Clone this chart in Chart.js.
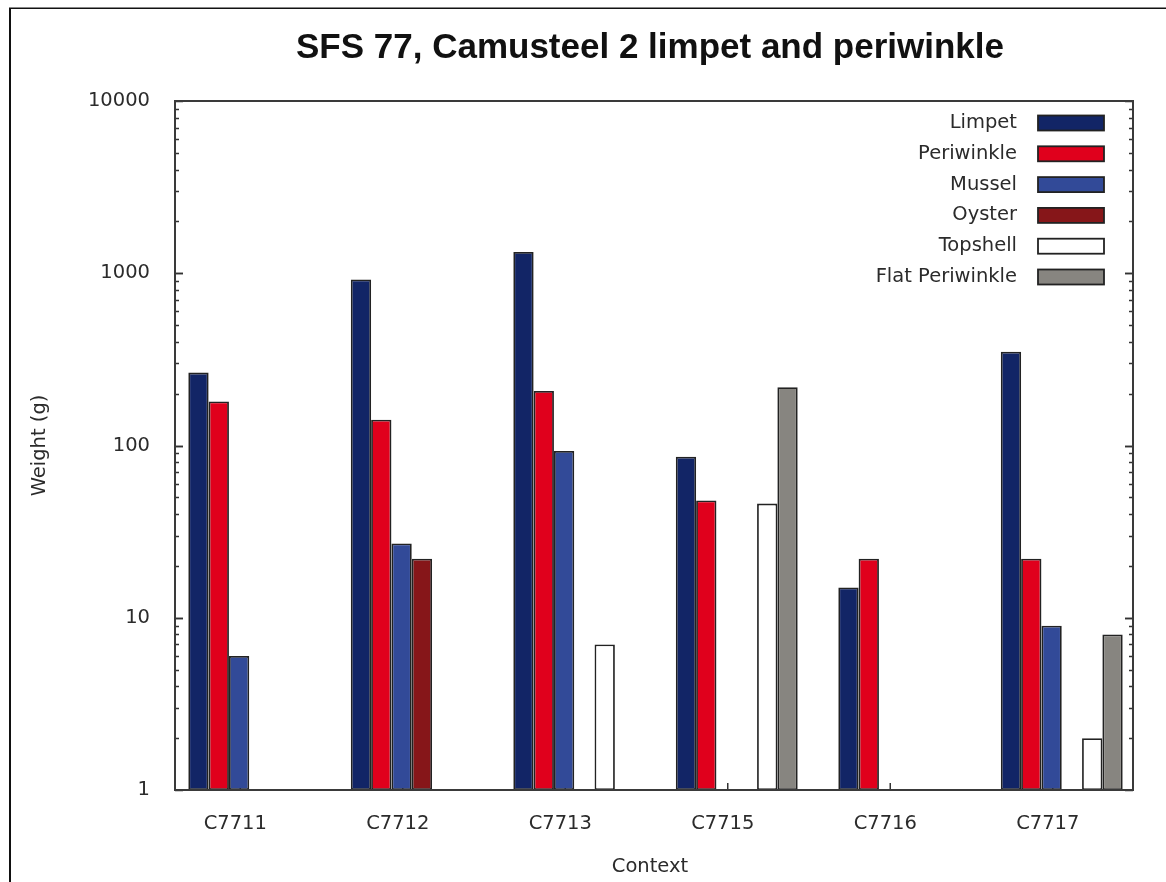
<!DOCTYPE html>
<html>
<head>
<meta charset="utf-8">
<script src="https://cdn.jsdelivr.net/npm/chart.js@4/dist/chart.umd.min.js"></script>
<style>
  body { margin: 0; background: #fff; }
  canvas { display: block; }
</style>
</head>
<body>
<canvas id="shells" width="1166" height="882"></canvas>
<script>
// categories and series
const contexts = ['C7711', 'C7712', 'C7713', 'C7715', 'C7716', 'C7717'];
const limpet = [265, 920, 1330, 86, 15, 350];
const periwinkle = [180, 141, 207, 48, 22, 22];
const mussel = [6, 27, 93, null, null, 9];
const oyster = [null, 22, null, null, null, null];
const topshell = [null, null, 7, 46, null, 2];
const flatPeriwinkle = [null, null, null, 218, null, 8];
const yTicks = [1, 10, 100, 1000, 10000];

const ink = '#2b2b2b';
const labelFont = { family: 'DejaVu Sans', size: 19.5 };

function series(label, data, color) {
  return {
    label: label,
    data: data,
    backgroundColor: color,
    borderColor: '#222',
    borderWidth: 1.8,
    borderSkipped: false,
    categoryPercentage: 0.75,
    barPercentage: 1.0
  };
}

// frame, ticks, legend and titles in gnuplot style
const gnuplotLook = {
  id: 'gnuplotLook',
  frame(chart) {
    const a = chart.chartArea;
    return { l: a.left + 7, r: a.right - 10, t: a.top, b: a.bottom };
  },
  beforeDraw(chart) {
    const ctx = chart.ctx;
    ctx.save();
    ctx.fillStyle = '#fff';
    ctx.fillRect(0, 0, chart.width, chart.height);
    ctx.fillStyle = '#111';
    ctx.fillRect(9, 8, 2, chart.height - 8);
    ctx.fillRect(9, 7.5, chart.width - 9, 1.5);
    ctx.restore();
  },
  beforeDatasetsDraw(chart) {
    const ctx = chart.ctx;
    const f = this.frame(chart);
    const x = chart.scales.x;
    ctx.save();
    ctx.strokeStyle = '#333';
    ctx.lineWidth = 1.5;
    contexts.forEach((c, i) => {
      const px = x.getPixelForValue(i) - 9;
      ctx.beginPath();
      ctx.moveTo(px, f.b);
      ctx.lineTo(px, f.b - 7);
      ctx.stroke();
    });
    ctx.restore();
  },
  afterDatasetsDraw(chart) {
    const ctx = chart.ctx;
    const f = this.frame(chart);
    const y = chart.scales.y;
    ctx.save();
    ctx.strokeStyle = '#333';
    ctx.lineWidth = 1.5;
    for (let d = 1; d < 10000; d *= 10) {
      for (let m = 1; m <= 10; m++) {
        const py = Math.round(y.getPixelForValue(d * m)) + 0.5;
        const len = (m === 1 || m === 10) ? 8 : 4;
        ctx.beginPath();
        ctx.moveTo(f.l, py); ctx.lineTo(f.l + len, py);
        ctx.moveTo(f.r, py); ctx.lineTo(f.r - len, py);
        ctx.stroke();
      }
    }
    ctx.strokeStyle = '#3a3a3a';
    ctx.lineWidth = 2;
    ctx.strokeRect(f.l, f.t, f.r - f.l, f.b - f.t);
    ctx.restore();
  },
  afterDraw(chart) {
    const ctx = chart.ctx;
    const f = this.frame(chart);
    ctx.save();
    // title
    ctx.fillStyle = '#111';
    ctx.textAlign = 'center';
    ctx.textBaseline = 'middle';
    ctx.font = 'bold 35px "Liberation Sans", sans-serif';
    ctx.fillText('SFS 77, Camusteel 2 limpet and periwinkle', (f.l + f.r) / 2 - 4, 48);
    // axis titles
    ctx.fillStyle = ink;
    ctx.font = '19.5px "DejaVu Sans"';
    ctx.fillText('Context', (f.l + f.r) / 2 - 4, 867);
    ctx.save();
    ctx.translate(40, (f.t + f.b) / 2);
    ctx.rotate(-Math.PI / 2);
    ctx.fillText('Weight (g)', 0, 0);
    ctx.restore();
    // legend
    chart.data.datasets.forEach((ds, i) => {
      const cy = f.t + 22 + i * 30.8;
      ctx.textAlign = 'right';
      ctx.fillStyle = ink;
      ctx.fillText(ds.label, f.r - 116, cy);
      ctx.fillStyle = ds.backgroundColor;
      ctx.fillRect(f.r - 95, cy - 7.5, 66, 15);
      ctx.strokeStyle = '#222';
      ctx.lineWidth = 1.8;
      ctx.strokeRect(f.r - 95, cy - 7.5, 66, 15);
    });
    ctx.restore();
  }
};

new Chart(document.getElementById('shells').getContext('2d'), {
  type: 'bar',
  data: {
    labels: contexts,
    datasets: [
      series('Limpet', limpet, '#122566'),
      series('Periwinkle', periwinkle, '#e0001c'),
      series('Mussel', mussel, '#324a98'),
      series('Oyster', oyster, '#861619'),
      series('Topshell', topshell, '#ffffff'),
      series('Flat Periwinkle', flatPeriwinkle, '#878580')
    ]
  },
  options: {
    responsive: false,
    animation: false,
    layout: { padding: { top: 101, right: 23, bottom: 0, left: 0 } },
    plugins: {
      legend: { display: false },
      title: { display: false },
      tooltip: { enabled: false }
    },
    scales: {
      x: {
        type: 'category',
        grid: { display: false, drawTicks: false },
        border: { display: false },
        ticks: { color: ink, font: labelFont, padding: 22, labelOffset: -14, maxRotation: 0 },
        afterFit(s) { s.height = 92; }
      },
      y: {
        type: 'logarithmic',
        min: 1,
        max: 10000,
        grid: { display: false, drawTicks: false },
        border: { display: false },
        ticks: { color: ink, font: labelFont, padding: 18, callback: v => String(v) },
        afterBuildTicks(s) { s.ticks = yTicks.map(v => ({ value: v })); },
        afterFit(s) { s.width = 168; }
      }
    }
  },
  plugins: [gnuplotLook]
});
</script>
</body>
</html>
